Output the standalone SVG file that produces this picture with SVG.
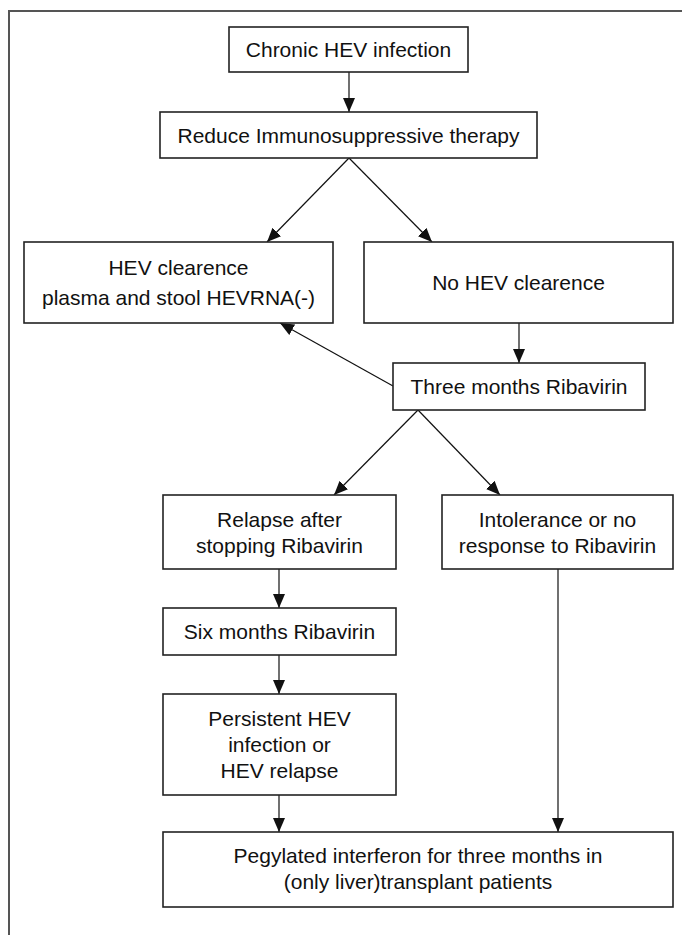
<svg xmlns="http://www.w3.org/2000/svg" width="682" height="935" viewBox="0 0 682 935">
<style>
.box{fill:#fff;stroke:#222;stroke-width:1.6}
.t{font-family:"Liberation Sans",Arial,sans-serif;font-size:21px;fill:#111;text-anchor:middle}
.c{stroke:#111;stroke-width:1.2;fill:none;marker-end:url(#ah)}
</style>
<defs>
<marker id="ah" markerUnits="userSpaceOnUse" markerWidth="15" markerHeight="12" refX="14" refY="6" orient="auto">
<path d="M0,0 L14,6 L0,12 z" fill="#111"/>
</marker>
</defs>
<rect width="682" height="935" fill="#fff"/>
<path d="M9,935 V11 H682" fill="none" stroke="#555" stroke-width="2"/>
<g id="connectors">
<line class="c" x1="349" y1="72" x2="349" y2="112"/>
<line class="c" x1="349" y1="158" x2="267" y2="242"/>
<line class="c" x1="349" y1="158" x2="432" y2="242"/>
<line class="c" x1="519" y1="323" x2="519" y2="363"/>
<line class="c" x1="393" y1="386" x2="280" y2="323"/>
<line class="c" x1="418" y1="410" x2="334" y2="495"/>
<line class="c" x1="418" y1="410" x2="500" y2="495"/>
<line class="c" x1="279" y1="569" x2="279" y2="608"/>
<line class="c" x1="279" y1="655" x2="279" y2="694"/>
<line class="c" x1="279" y1="795" x2="279" y2="832"/>
<line class="c" x1="558" y1="569" x2="558" y2="832"/>
</g>
<g id="n1"><rect class="box" x="229" y="27" width="239" height="45"/><text class="t" x="348.5" y="57">Chronic HEV infection</text></g>
<g id="n2"><rect class="box" x="160" y="112" width="377" height="46"/><text class="t" x="348.5" y="142.5">Reduce Immunosuppressive therapy</text></g>
<g id="n3"><rect class="box" x="24" y="242" width="309" height="81"/><text class="t" x="178.5" y="275">HEV clearence</text><text class="t" x="178.5" y="305">plasma and stool HEVRNA(-)</text></g>
<g id="n4"><rect class="box" x="364" y="242" width="309" height="81"/><text class="t" x="518.5" y="290">No HEV clearence</text></g>
<g id="n5"><rect class="box" x="393" y="363" width="252" height="47"/><text class="t" x="519" y="394">Three months Ribavirin</text></g>
<g id="n6"><rect class="box" x="163" y="495" width="233" height="74"/><text class="t" x="279.5" y="526.5">Relapse after</text><text class="t" x="279.5" y="552.5">stopping Ribavirin</text></g>
<g id="n7"><rect class="box" x="442" y="495" width="231" height="74"/><text class="t" x="557.5" y="526.5">Intolerance or no</text><text class="t" x="557.5" y="552.5">response to Ribavirin</text></g>
<g id="n8"><rect class="box" x="163" y="608" width="233" height="47"/><text class="t" x="279.5" y="639">Six months Ribavirin</text></g>
<g id="n9"><rect class="box" x="163" y="694" width="233" height="101"/><text class="t" x="279.5" y="726">Persistent HEV</text><text class="t" x="279.5" y="752">infection or</text><text class="t" x="279.5" y="778">HEV relapse</text></g>
<g id="n10"><rect class="box" x="163" y="832" width="510" height="75"/><text class="t" x="418" y="863">Pegylated interferon for three months in</text><text class="t" x="418" y="889">(only liver)transplant patients</text></g>
</svg>
